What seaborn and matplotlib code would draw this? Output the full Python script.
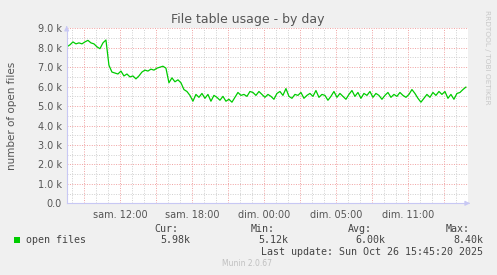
import numpy as np
import pandas as pd
import matplotlib
matplotlib.use("Agg")
import matplotlib.pyplot as plt
import seaborn as sns

# ---- data ----
start_hour = 5.55          # hours since Oct 25 00:00 UTC of first sample
step_hours = 0.25          # sample spacing
open_files_k = [
    8.05, 8.15, 8.30, 8.20, 8.25, 8.20, 8.30, 8.38, 8.25, 8.20, 8.05, 7.95, 8.25, 8.40,
    7.10, 6.75, 6.70, 6.65, 6.80, 6.55, 6.65, 6.50, 6.55, 6.40, 6.55, 6.75, 6.85, 6.80,
    6.90, 6.85, 6.95, 7.00, 7.05, 6.95, 6.20, 6.45, 6.25, 6.35, 6.20, 5.85, 5.75, 5.55,
    5.25, 5.60, 5.45, 5.65, 5.40, 5.60, 5.25, 5.55, 5.45, 5.30, 5.50, 5.25, 5.35, 5.20,
    5.45, 5.70, 5.55, 5.60, 5.50, 5.75, 5.70, 5.55, 5.75, 5.60, 5.45, 5.60, 5.50, 5.35,
    5.65, 5.75, 5.55, 5.90, 5.50, 5.40, 5.60, 5.55, 5.70, 5.40, 5.55, 5.65, 5.50, 5.80,
    5.45, 5.60, 5.55, 5.30, 5.50, 5.75, 5.45, 5.65, 5.50, 5.35, 5.60, 5.80, 5.50, 5.70,
    5.40, 5.65, 5.55, 5.75, 5.45, 5.65, 5.55, 5.35, 5.55, 5.70, 5.45, 5.60, 5.50, 5.70,
    5.55, 5.45, 5.60, 5.85, 5.65, 5.40, 5.20, 5.40, 5.60, 5.45, 5.70, 5.55, 5.75, 5.60,
    5.75, 5.40, 5.60, 5.35, 5.65, 5.70, 5.85, 5.98,
]
xtick_hours = [7, 10, 13, 16, 19, 22, 25, 28, 31, 34, 37]
xtick_labels = ["", "sam. 12:00", "", "sam. 18:00", "", "dim. 00:00", "",
                "dim. 05:00", "", "dim. 11:00", ""]
ytick_values = [0, 1000, 2000, 3000, 4000, 5000, 6000, 7000, 8000, 9000]
ytick_labels = ["0.0", "1.0 k", "2.0 k", "3.0 k", "4.0 k", "5.0 k", "6.0 k",
                "7.0 k", "8.0 k", "9.0 k"]
legend_name = "open files"
stat_names = ["Cur:", "Min:", "Avg:", "Max:"]
stat_values = ["5.98k", "5.12k", "6.00k", "8.40k"]
title = "File table usage - by day"
ylabel = "number of open files"
last_update = "Last update: Sun Oct 26 15:45:20 2025"

df = pd.DataFrame({
    "hour": start_hour + step_hours * np.arange(len(open_files_k)),
    "files": np.array(open_files_k) * 1000.0,
})

# ---- figure ----
sns.set_style("white")
plt.rcParams["font.family"] = ["DejaVu Sans"]
W, H = 497, 275
fig = plt.figure(figsize=(W / 100, H / 100), dpi=100, facecolor="#F0F0F0")
ax = fig.add_axes([66.7 / W, 1 - 203.3 / H, 401.3 / W, 175 / H])
ax.set_facecolor("white")

sns.lineplot(data=df, x="hour", y="files", ax=ax, color="#00CC00", lw=0.9)

ax.set_xlim(5.53, 5.53 + 401.3 / 12)
ax.set_ylim(0, 9000)

# grids
ax.set_xticks(xtick_hours)
ax.set_xticklabels(xtick_labels)
ax.set_xticks(np.arange(6, 39, 1), minor=True)
ax.set_yticks(ytick_values)
ax.set_yticklabels(ytick_labels)
ax.set_yticks(np.arange(500, 9000, 1000), minor=True)
ax.grid(True, which="major", color="#F0A0A0", ls=(0, (1, 1.5)), lw=0.7)
ax.grid(True, which="minor", color="#CFCFCF", ls=(0, (1, 1.5)), lw=0.7)
ax.set_axisbelow(True)

ax.tick_params(which="major", direction="inout", length=3, width=0.7,
               color="#E07070", labelsize=7, labelcolor="#555555", pad=2)
ax.tick_params(which="minor", direction="inout", length=2, width=0.6,
               color="#BBBBBB")
ax.tick_params(axis="x", pad=3)

for s in ["top", "right"]:
    ax.spines[s].set_visible(False)
for s in ["left", "bottom"]:
    ax.spines[s].set_color("#C8C8F4")
    ax.spines[s].set_linewidth(0.8)

ax.set_xlabel("")
ax.set_ylabel(ylabel, fontsize=7.5, color="#555555")
ax.yaxis.set_label_coords((17 - 66.7) / 401.3, 0.5)

# axis arrows
ax.annotate("", xy=(1.012, 0), xytext=(0.995, 0), xycoords="axes fraction",
            arrowprops=dict(arrowstyle="-|>", color="#C8C8F4", lw=0.8,
                            mutation_scale=7), annotation_clip=False)
ax.annotate("", xy=(0, 1.03), xytext=(0, 0.99), xycoords="axes fraction",
            arrowprops=dict(arrowstyle="-|>", color="#C8C8F4", lw=0.8,
                            mutation_scale=7), annotation_clip=False)

# title and side text
fig.text(248 / W, 1 - 19.5 / H, title, ha="center", va="center",
         fontsize=9, color="#555555")
fig.text(487 / W, 1 - 57 / H, "RRDTOOL / TOBI OETIKER", rotation=270,
         ha="center", va="center", fontsize=5.3, color="#C8C8C8")

# legend area
mono = "DejaVu Sans Mono"
fig.patches.append(plt.Rectangle((14 / W, 1 - 243 / H), 6 / W, 6 / H,
                                 transform=fig.transFigure,
                                 facecolor="#00CC00", edgecolor="none"))
fig.text(26 / W, 1 - 240 / H, legend_name, ha="left", va="center",
         family=mono, fontsize=7.2, color="#444444")
name_right = [178, 275, 372, 470]
val_right = [190, 288, 385, 483]
for n, v, xr, xv in zip(stat_names, stat_values, name_right, val_right):
    fig.text(xr / W, 1 - 228.5 / H, n, ha="right", va="center",
             family=mono, fontsize=7.2, color="#444444")
    fig.text(xv / W, 1 - 240 / H, v, ha="right", va="center",
             family=mono, fontsize=7.2, color="#444444")
fig.text(483 / W, 1 - 252 / H, last_update, ha="right", va="center",
         family=mono, fontsize=7.2, color="#444444")
fig.text(247.5 / W, 1 - 263.5 / H, "Munin 2.0.67", ha="center", va="center",
         fontsize=5.5, color="#C0C0C0")

fig.savefig("out.png", dpi=100, facecolor=fig.get_facecolor())
